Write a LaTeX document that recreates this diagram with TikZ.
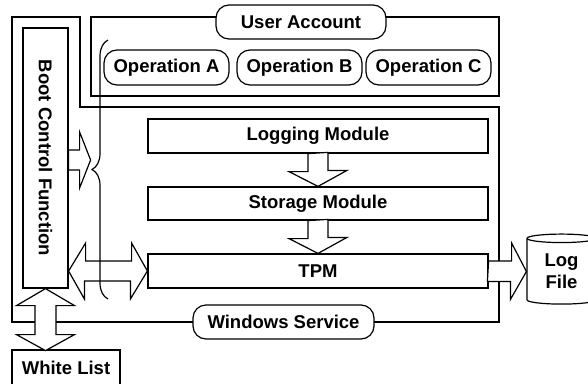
\documentclass[tikz,border=0pt]{standalone}
\usepackage{fontspec}
\setmainfont{Liberation Sans}
\usetikzlibrary{shapes.geometric,decorations.pathreplacing}

\tikzset{
  box/.style={draw, line width=1.2pt, fill=white, inner sep=0pt, minimum height=34pt,
    font=\fontsize{18.5}{21}\selectfont\bfseries},
  pill/.style={box, rounded corners=13pt},
  barrow/.style={draw, line width=1.2pt, fill=white, line join=miter},
  frame/.style={draw, line width=1.2pt},
}

\begin{document}
\begin{tikzpicture}[x=1pt, y=-1pt]
\useasboundingbox (0,0) rectangle (588,383);

% windows service boundary
\draw[frame] (12,17) -- (80,17) -- (80,107) -- (499,107) -- (499,322) -- (12,322) -- cycle;
\node[pill, minimum width=181pt] (ws) at (283.5,322) {Windows Service};

% user account
\draw[frame] (91,17) rectangle (499,96);
\node[pill, minimum width=170pt] (ua) at (301,22) {User Account};
\node[pill, minimum width=125pt, minimum height=35pt] (opa) at (166.5,67.5) {Operation A};
\node[pill, minimum width=125pt, minimum height=35pt] (opb) at (299.5,67.5) {Operation B};
\node[pill, minimum width=125pt, minimum height=35pt] (opc) at (428.5,67.5) {Operation C};

% boxes
\node[box, minimum width=260pt, minimum height=45pt, rotate=-90] (bcf) at (45.5,158) {Boot Control Function};
\node[box, minimum width=340pt] (log) at (318,136) {Logging Module};
\node[box, minimum width=340pt, minimum height=33pt] (sto) at (318,203.5) {Storage Module};
\node[box, minimum width=340pt] (tpm) at (318,271) {TPM};
\node[box, minimum width=108pt, minimum height=36pt] (wl) at (66,368) {White List};
\node[box, cylinder, shape border rotate=90, aspect=0.25, minimum width=69pt, minimum height=70pt,
  align=center, font=\fontsize{18.5}{22}\selectfont\bfseries] (lf) at (561.5,271.5) {Log\\File};

% block arrows
\draw[barrow] (log.south) ++(-10,0) -- ++(0,18) -- ++(-19,0) -- (sto.north) -- ++(29,-16)
  -- ++(-19,0) -- ++(0,-18) -- cycle;
\draw[barrow] (sto.south) ++(-10,0) -- ++(0,18) -- ++(-19,0) -- (tpm.north) -- ++(29,-16)
  -- ++(-19,0) -- ++(0,-18) -- cycle;
\draw[barrow] (tpm.east) ++(0,-10) -- ++(23,0) -- ++(0,-18) -- (lf.west) -- ++(-16,28)
  -- ++(0,-18) -- ++(-23,0) -- cycle;
\draw[barrow] (bcf.north |- 0,150) -- ++(11,0) -- ++(0,-18) -- ++(11,28) -- ++(-11,28) -- ++(0,-18)
  -- ++(-11,0) -- cycle;
\draw[barrow] (bcf.north |- tpm.west) -- ++(17,-28) -- ++(0,18) -- ++(46,0) -- ++(0,-18) -- (tpm.west)
  -- ++(-17,28) -- ++(0,-18) -- ++(-46,0) -- ++(0,18) -- cycle;
\draw[barrow] (bcf.east) -- ++(29,17) -- ++(-18.5,0) -- ++(0,29) -- ++(18.5,0) -- ++(-29,16)
  -- ++(-29,-16) -- ++(18.5,0) -- ++(0,-29) -- ++(-18.5,0) -- cycle;

% brace
\draw[line width=1.2pt, decorate, decoration={brace, amplitude=16pt}] (108,299) -- (108,40);
\end{tikzpicture}
\end{document}
